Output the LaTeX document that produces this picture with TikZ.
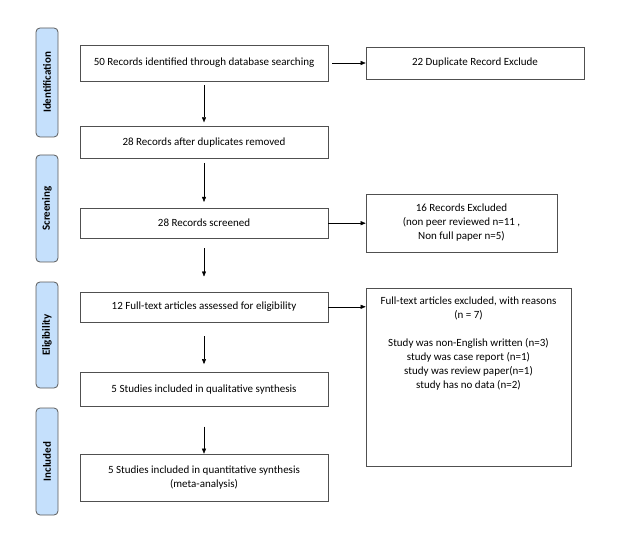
\documentclass[tikz,border=0pt]{standalone}
\usepackage{fontspec}
\setmainfont{Carlito}
\usepackage{tikz}
\usetikzlibrary{positioning,arrows.meta}

\definecolor{stagefill}{RGB}{197,224,252}
\definecolor{stageline}{RGB}{90,90,90}
\definecolor{boxline}{RGB}{80,80,80}

\begin{document}
\begin{tikzpicture}[
    x=1pt, y=-1pt,
    node distance=0pt,
    box/.style = {draw=boxline, line width=0.6pt, minimum width=248pt, inner sep=2pt, align=center, font=\fontsize{11}{14}\selectfont},
    side/.style = {draw=boxline, line width=0.6pt, inner sep=2pt, align=center, font=\fontsize{11}{14}\selectfont},
    stage/.style = {draw=stageline, fill=stagefill, line width=0.8pt, rounded corners=4pt, minimum width=22pt, rotate=90, font=\fontsize{11}{13}\selectfont\bfseries},
    > = {Triangle[length=5pt,width=4pt]}
]
\useasboundingbox (0,0) rectangle (620,534);

% stages
\node (ident) [stage, minimum width=109pt, minimum height=22pt] at (47,82.5) {Identification};
\node (screen) [stage, minimum width=107pt, minimum height=22pt] at (47,208.5) {Screening};
\node (elig) [stage, minimum width=106pt, minimum height=22pt] at (47,335) {Eligibility};
\node (incl) [stage, minimum width=107pt, minimum height=22pt] at (47,461.5) {Included};

% main column
\node (ids) [box, minimum height=36pt] at (204,63) {50 Records identified through database searching};
\node (dup) [box, minimum height=32pt, below=45pt of ids] {28 Records after duplicates removed};
\node (scr) [box, minimum height=30pt, below=49pt of dup] {28 Records screened};
\node (full) [box, minimum height=30pt, below=53pt of scr] {12 Full-text articles assessed for eligibility};
\node (qual) [box, minimum height=34pt, below=50pt of full] {5 Studies included in qualitative synthesis};
\node (quant) [box, minimum height=47pt, below=47pt of qual] {5 Studies included in quantitative synthesis\\(meta-analysis)};

% exclusions
\node (dupex) [side, minimum width=218pt, minimum height=32pt] at (475,63) {22 Duplicate Record Exclude};
\node (recex) [side, minimum width=191pt, minimum height=58pt] at (461.5,223) {16 Records Excluded\\(non peer reviewed n=11 ,\\Non full paper n=5)};
\node (fullex) [side, minimum width=205pt, minimum height=178pt] at (468.5,377) {};
\node (fullextxt) [align=center, font=\fontsize{11}{14}\selectfont, below=6pt of fullex.north] {Full-text articles excluded, with reasons\\(n = 7)\\[14pt]Study was non-English written (n=3)\\study was case report (n=1)\\study was review paper(n=1)\\study has no data (n=2)};

\draw[->, shorten <=4pt, shorten >=4pt] (ids) to (dup);
\draw[->, shorten <=4pt, shorten >=6pt] (dup) to (scr);
\draw[->, shorten <=10pt, shorten >=15pt] (scr) to (full);
\draw[->, shorten <=14pt, shorten >=8pt] (full) to (qual);
\draw[->, shorten <=20pt] (qual) to (quant);
\draw[->, shorten <=4pt] (ids) to (dupex);
\draw[->] (scr.east) to (scr.east -| recex.west);
\draw[->] (full.east) to (full.east -| fullex.west);
\end{tikzpicture}
\end{document}
